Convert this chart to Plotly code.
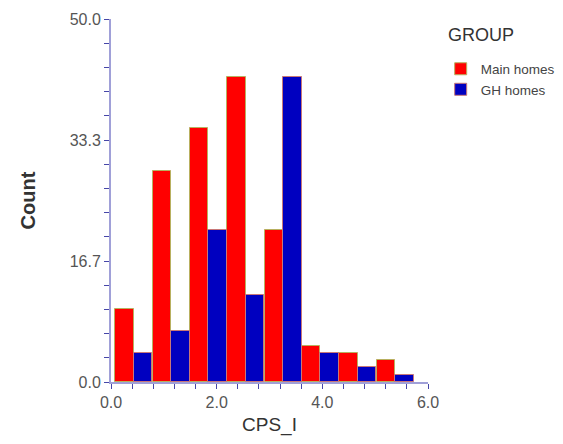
import plotly.graph_objects as go

# Histogram of CPS_I by group: bin centres and counts per bin
bin_centers = [0.43, 1.14, 1.84, 2.55, 3.26, 3.96, 4.67, 5.38]
main_homes = [10, 29, 35, 42, 21, 5, 4, 3]
gh_homes = [4, 7, 21, 12, 42, 4, 2, 1]

y_tickvals = [0, 50 / 3, 100 / 3, 50]
y_ticktext = ["0.0", "16.7", "33.3", "50.0"]
x_tickvals = [0, 2, 4, 6]
x_ticktext = ["0.0", "2.0", "4.0", "6.0"]

FONT = "Liberation Sans, Arial, sans-serif"
AXIS_LINE = "#a0a0d8"
TICK = "#4646a8"

fig = go.Figure()
fig.add_trace(go.Bar(
    x=bin_centers, y=main_homes, name="Main homes",
    marker=dict(color="#ff0000", line=dict(color="#b8b060", width=1)),
))
fig.add_trace(go.Bar(
    x=bin_centers, y=gh_homes, name="GH homes",
    marker=dict(color="#0000c0", line=dict(color="#c87878", width=1)),
))

fig.update_layout(
    width=563, height=444,
    margin=dict(l=111, r=135, t=19, b=62, autoexpand=False),
    paper_bgcolor="white", plot_bgcolor="white",
    barmode="group", bargap=0, bargroupgap=0,
    font=dict(family=FONT, color="#555555"),
    showlegend=True,
    legend=dict(
        x=1.04, xanchor="left", y=0.905, yanchor="top",
        font=dict(size=13.5, color="#444444"),
        itemwidth=30, tracegroupgap=0,
        bgcolor="rgba(0,0,0,0)",
    ),
    annotations=[dict(
        text="GROUP", xref="paper", yref="paper",
        x=1.058, y=0.956, xanchor="left", yanchor="middle",
        showarrow=False, font=dict(size=18, color="#333333", family=FONT),
    )],
)

fig.update_xaxes(
    range=[0, 6], tickmode="array", tickvals=x_tickvals, ticktext=x_ticktext,
    ticks="outside", ticklen=5, tickwidth=1, tickcolor=TICK,
    minor=dict(dtick=0.4, tick0=0, ticks="outside", ticklen=5, tickcolor=TICK, tickwidth=1),
    showline=True, linecolor=AXIS_LINE, linewidth=2,
    showgrid=False, zeroline=False,
    tickfont=dict(size=16, color="#555555"),
    title=dict(text="CPS_I", font=dict(size=19, color="#333333"), standoff=7),
)
fig.update_yaxes(
    range=[0, 50], tickmode="array", tickvals=y_tickvals, ticktext=y_ticktext,
    ticks="outside", ticklen=5, tickwidth=1, tickcolor=TICK,
    minor=dict(dtick=50 / 15, tick0=0, ticks="outside", ticklen=5, tickcolor=TICK, tickwidth=1),
    showline=True, linecolor=AXIS_LINE, linewidth=2,
    showgrid=False, zeroline=False,
    tickfont=dict(size=16, color="#555555"),
    title=dict(text="<b>Count</b>", font=dict(size=20, color="#333333"), standoff=29),
)

fig.write_html("out.html")
